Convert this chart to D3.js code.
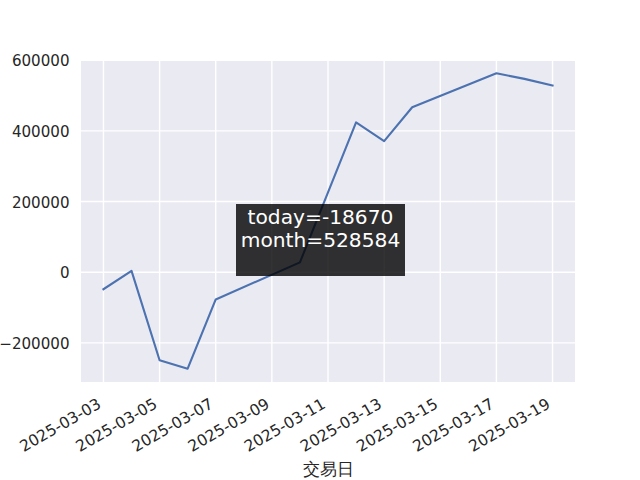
<!DOCTYPE html>
<html>
<head>
<meta charset="utf-8">
<script src="https://cdn.jsdelivr.net/npm/d3@7"></script>
<style>
html, body { margin: 0; padding: 0; background: #ffffff; }
svg { display: block; font-family: "DejaVu Sans", sans-serif; }
</style>
</head>
<body>
<svg id="chart" width="640" height="480"></svg>
<script>
// ---- data ----
const dates = ["2025-03-03","2025-03-04","2025-03-05","2025-03-06","2025-03-07",
               "2025-03-10","2025-03-11","2025-03-12","2025-03-13","2025-03-14",
               "2025-03-17","2025-03-18","2025-03-19"];
const values = [-48000, 4000, -249000, -273000, -77000,
                28000, 226000, 424000, 371000, 467000,
                563000, 547254, 528584];
const xTickLabels = ["2025-03-03","2025-03-05","2025-03-07","2025-03-09","2025-03-11",
                     "2025-03-13","2025-03-15","2025-03-17","2025-03-19"];
const yTickValues = [-200000, 0, 200000, 400000, 600000];
const annotationLines = ["today=-18670", "month=528584"];
const xLabel = "交易日";

// ---- layout ----
const svg = d3.select("#chart");
const plot = { left: 81, right: 575, top: 60, bottom: 382 };
const parse = d3.timeParse("%Y-%m-%d");
const fmt = d3.timeFormat("%Y-%m-%d");
const data = dates.map((d, i) => ({ date: parse(d), value: values[i] }));

const xExt = d3.extent(data, d => d.date);
const xPad = (xExt[1] - xExt[0]) * 0.05;
const x = d3.scaleTime()
  .domain([new Date(+xExt[0] - xPad), new Date(+xExt[1] + xPad)])
  .range([plot.left, plot.right]);

const yExt = d3.extent(values);
const yPad = (yExt[1] - yExt[0]) * 0.045;
const y = d3.scaleLinear()
  .domain([yExt[0] - yPad, yExt[1] + yPad])
  .range([plot.bottom, plot.top]);

// background
svg.append("rect")
  .attr("x", plot.left).attr("y", plot.top)
  .attr("width", plot.right - plot.left).attr("height", plot.bottom - plot.top)
  .attr("fill", "#eaeaf2");

const xTicks = xTickLabels.map(parse);

// grid
const grid = svg.append("g").attr("stroke", "#ffffff").attr("stroke-width", 1.4);
grid.selectAll("line.vx").data(xTicks).enter().append("line")
  .attr("x1", d => x(d)).attr("x2", d => x(d))
  .attr("y1", plot.top).attr("y2", plot.bottom);
grid.selectAll("line.hy").data(yTickValues).enter().append("line")
  .attr("x1", plot.left).attr("x2", plot.right)
  .attr("y1", d => y(d)).attr("y2", d => y(d));

// axes via d3 axis generators (no domain line, no tick marks)
const xAxis = d3.axisBottom(x).tickValues(xTicks).tickFormat(fmt).tickSize(0);
const gx = svg.append("g").attr("transform", `translate(0,${plot.bottom})`).call(xAxis);
gx.select(".domain").remove();
gx.selectAll("text")
  .attr("fill", "#262626")
  .attr("font-size", "15.6px")
  .attr("font-family", "DejaVu Sans, sans-serif")
  .attr("text-anchor", "end")
  .attr("dy", null)
  .attr("y", 0)
  .attr("transform", "translate(-1.8,25) rotate(-30)");

const yAxis = d3.axisLeft(y).tickValues(yTickValues).tickFormat(d => d < 0 ? "\u2212" + Math.abs(d) : String(d)).tickSize(0);
const gy = svg.append("g").attr("transform", `translate(${plot.left},0)`).call(yAxis);
gy.select(".domain").remove();
gy.selectAll("text")
  .attr("fill", "#262626")
  .attr("font-size", "15.1px")
  .attr("font-family", "DejaVu Sans, sans-serif")
  .attr("x", -11.5)
  .attr("dy", "0.36em");

// line
const line = d3.line().x(d => x(d.date)).y(d => y(d.value));
svg.append("path").datum(data)
  .attr("d", line)
  .attr("fill", "none")
  .attr("stroke", "#4c72b0")
  .attr("stroke-width", 2.1)
  .attr("stroke-linejoin", "round")
  .attr("stroke-linecap", "square");

// annotation box
const box = { x: 236, y: 204, w: 169, h: 72 };
svg.append("rect")
  .attr("x", box.x).attr("y", box.y).attr("width", box.w).attr("height", box.h)
  .attr("fill", "#000000").attr("fill-opacity", 0.8);
svg.append("g").selectAll("text").data(annotationLines).enter().append("text")
  .attr("x", box.x + box.w / 2)
  .attr("y", (d, i) => 224 + i * 22.5)
  .attr("text-anchor", "middle")
  .attr("fill", "#ffffff")
  .attr("font-size", "20.2px")
  .text(d => d);

// x label
svg.append("text")
  .attr("x", (plot.left + plot.right) / 2)
  .attr("y", 475)
  .attr("text-anchor", "middle")
  .attr("fill", "#262626")
  .attr("font-size", "16.5px")
  .text(xLabel);
</script>
</body>
</html>
